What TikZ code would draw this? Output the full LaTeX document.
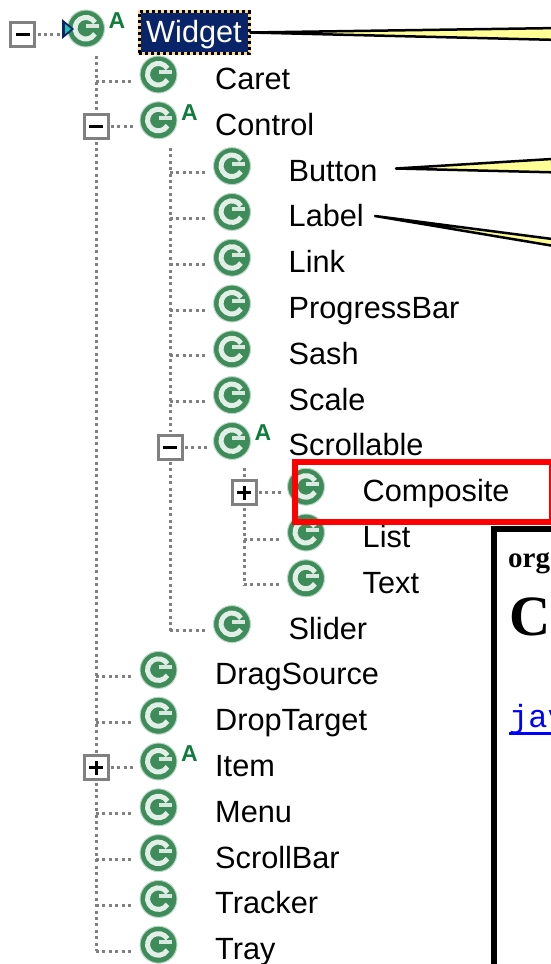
\documentclass[tikz,border=0pt]{standalone}
\usepackage{fontspec}
\setmainfont{Liberation Sans}
\newfontfamily\docserif{Liberation Serif}
\newfontfamily\docmono{Liberation Mono}
\usepackage{tikz}
\usetikzlibrary{positioning}
\definecolor{clsgreen}{RGB}{62,140,90}
\definecolor{absgreen}{RGB}{16,124,60}
\definecolor{selblue}{RGB}{10,36,106}
\definecolor{selwheat}{RGB}{250,215,140}
\definecolor{treegray}{RGB}{128,128,128}
\definecolor{tipyellow}{RGB}{255,255,150}

\begin{document}
\begin{tikzpicture}[x=1pt, y=-1pt, >=latex]%
            \tikzstyle{cls} = [ circle, draw = clsgreen!35, line width = 1pt, fill = clsgreen, minimum size = 37pt, inner sep = 0pt, outer sep = 0pt,
                path picture = {
                    \draw [white!85!clsgreen, line width = 5pt] ([xshift = 9pt, yshift = 6pt]path picture bounding box.center) arc [start angle = 32, end angle = 328, radius = 10.8pt];
                    \draw [white!80!clsgreen, line width = 4pt] ([xshift = 0pt, yshift = 2.5pt]path picture bounding box.center) -- ++(13pt,0);
                    \draw [clsgreen, line width = 4pt] ([xshift = -1pt, yshift = -1.5pt]path picture bounding box.center) -- ++(14pt,0);
                }]
            \tikzstyle{tree_lbl} = [ inner sep = 0pt, text height = 22pt, text depth = 5pt, yshift = -6.5pt, font = \fontsize{30.7}{36}\selectfont]
            \tikzstyle{abs_mark} = [ inner sep = 0pt, text = absgreen, font = \bfseries\fontsize{23}{28}\selectfont]
            \tikzstyle{toggle} = [ rectangle, draw = treegray, line width = 3pt, fill = white, minimum size = 24pt, inner sep = 0pt, outer sep = 0pt]
            \tikzstyle{t_minus} = [ toggle, path picture = {
                    \draw [black, line width = 3pt] ([xshift = -7pt]path picture bounding box.center) -- ++(14pt,0);
                }]
            \tikzstyle{t_plus} = [ toggle, path picture = {
                    \draw [black, line width = 3pt] ([xshift = -7pt]path picture bounding box.center) -- ++(14pt,0);
                    \draw [black, line width = 3pt] ([yshift = -7pt]path picture bounding box.center) -- ++(0,14pt);
                }]
            \tikzstyle{dots} = [ treegray, line width = 3pt, dash pattern = on 3pt off 3.4pt]
            \tikzstyle{callout} = [ draw = black, line width = 2.5pt, line join = round, fill = tipyellow]
            \tikzstyle{doc_txt} = [ inner sep = 0pt, anchor = base west]
        %%
            \useasboundingbox (0,0) rectangle (551,964);
            \clip (0,0) rectangle (551,964);
            \begin{scope}[node distance = 45.8pt]%
                %% Class icons
                \node [cls] (i_widget) at (86,28.5) {};
                \node [cls] (i_caret) at (158.5,74.5) {};
                \node [cls] (i_ctrl) [below of = i_caret] {};
                \node [cls] (i_button) [below of = i_ctrl, xshift = 73.5pt] {};
                \node [cls] (i_label) [below of = i_button] {};
                \node [cls] (i_link) [below of = i_label] {};
                \node [cls] (i_prog) [below of = i_link] {};
                \node [cls] (i_sash) [below of = i_prog] {};
                \node [cls] (i_scale) [below of = i_sash] {};
                \node [cls] (i_scroll) [below of = i_scale] {};
                \node [cls] (i_comp) [below of = i_scroll, xshift = 74pt] {};
                \node [cls] (i_list) [below of = i_comp] {};
                \node [cls] (i_text) [below of = i_list] {};
                \node [cls] (i_slider) [below of = i_text, xshift = -74pt] {};
                \node [cls] (i_drag) [below of = i_slider, xshift = -73.5pt] {};
                \node [cls] (i_drop) [below of = i_drag] {};
                \node [cls] (i_item) [below of = i_drop] {};
                \node [cls] (i_menu) [below of = i_item] {};
                \node [cls] (i_sbar) [below of = i_menu] {};
                \node [cls] (i_track) [below of = i_sbar] {};
                \node [cls] (i_tray) [below of = i_track] {};

                %% Labels
                \node [tree_lbl] (l_caret) [right = 38pt of i_caret] {Caret};
                \node [tree_lbl] (l_ctrl) [right = 38pt of i_ctrl] {Control};
                \node [tree_lbl] (l_button) [right = 38pt of i_button] {Button};
                \node [tree_lbl] (l_label) [right = 38pt of i_label] {Label};
                \node [tree_lbl] (l_link) [right = 38pt of i_link] {Link};
                \node [tree_lbl] (l_prog) [right = 38pt of i_prog] {ProgressBar};
                \node [tree_lbl] (l_sash) [right = 38pt of i_sash] {Sash};
                \node [tree_lbl] (l_scale) [right = 38pt of i_scale] {Scale};
                \node [tree_lbl] (l_scroll) [right = 38pt of i_scroll] {Scrollable};
                \node [tree_lbl] (l_comp) [right = 38pt of i_comp] {Composite};
                \node [tree_lbl] (l_list) [right = 38pt of i_list] {List};
                \node [tree_lbl] (l_text) [right = 38pt of i_text] {Text};
                \node [tree_lbl] (l_slider) [right = 38pt of i_slider] {Slider};
                \node [tree_lbl] (l_drag) [right = 38pt of i_drag] {DragSource};
                \node [tree_lbl] (l_drop) [right = 38pt of i_drop] {DropTarget};
                \node [tree_lbl] (l_item) [right = 38pt of i_item] {Item};
                \node [tree_lbl] (l_menu) [right = 38pt of i_menu] {Menu};
                \node [tree_lbl] (l_sbar) [right = 38pt of i_sbar] {ScrollBar};
                \node [tree_lbl] (l_track) [right = 38pt of i_track] {Tracker};
                \node [tree_lbl] (l_tray) [right = 38pt of i_tray] {Tray};

                %% Selected root
                \node [tree_lbl, yshift = 2.5pt, text depth = 2pt, text = white, fill = selblue, draw = selwheat, line width = 3pt, minimum width = 110pt, minimum height = 42pt, align = center, postaction = {draw = black, dash pattern = on 3pt off 3pt}] (l_widget) [right = 33pt of i_widget] {Widget};

                %% Abstract marks
                \node [abs_mark] (a_widget) [right = 4pt of i_widget, yshift = 8pt] {A};
                \node [abs_mark] (a_ctrl) [right = 4pt of i_ctrl, yshift = 8pt] {A};
                \node [abs_mark] (a_scroll) [right = 4pt of i_scroll, yshift = 8pt] {A};
                \node [abs_mark] (a_item) [right = 4pt of i_item, yshift = 8pt] {A};

                %% Expand boxes
                \node [t_minus] (t_root) at (22.5,34.5) {};
                \node [t_minus] (t_ctrl) at (96,126.5) {};
                \node [t_minus] (t_scroll) at (170,447) {};
                \node [t_plus] (t_comp) at (244,492.7) {};
                \node [t_plus] (t_item) at (96,767.5) {};

                \coordinate (v_root) at (96,56);
                \coordinate (v_ctrl) at (170,148);
                \coordinate (v_scroll) at (244,468);

                %% Tree lines
                \draw [dots, shorten > = 5.5pt, shorten <= 3pt] (t_root.east) -- (t_root -| i_widget.west);
                \draw [dots, shorten > = 3pt] (v_root) -- (t_ctrl.north);
                \draw [dots, shorten <= 3pt, shorten > = 3pt] (t_ctrl.south) -- (t_item.north);
                \draw [dots, shorten <= 3pt] (t_item.south) -- (l_tray -| t_item);
                \draw [dots, shorten > = 3pt] (v_ctrl) -- (t_scroll.north);
                \draw [dots, shorten <= 3pt] (t_scroll.south) -- (l_slider -| t_scroll);
                \draw [dots, shorten > = 3pt] (v_scroll) -- (t_comp.north);
                \draw [dots, shorten <= 3pt] (t_comp.south) -- (l_text -| t_comp);

                \draw [dots, shorten > = 6pt] (l_caret -| t_ctrl) -- (l_caret -| i_caret.west);
                \draw [dots, shorten <= 3pt, shorten > = 6pt] (t_ctrl.east) -- (t_ctrl -| i_ctrl.west);
                \draw [dots, shorten > = 6pt] (l_button -| t_scroll) -- (l_button -| i_button.west);
                \draw [dots, shorten > = 6pt] (l_label -| t_scroll) -- (l_label -| i_label.west);
                \draw [dots, shorten > = 6pt] (l_link -| t_scroll) -- (l_link -| i_link.west);
                \draw [dots, shorten > = 6pt] (l_prog -| t_scroll) -- (l_prog -| i_prog.west);
                \draw [dots, shorten > = 6pt] (l_sash -| t_scroll) -- (l_sash -| i_sash.west);
                \draw [dots, shorten > = 6pt] (l_scale -| t_scroll) -- (l_scale -| i_scale.west);
                \draw [dots, shorten <= 3pt, shorten > = 6pt] (t_scroll.east) -- (t_scroll -| i_scroll.west);
                \draw [dots, shorten <= 3pt, shorten > = 6pt] (t_comp.east) -- (t_comp -| i_comp.west);
                \draw [dots, shorten > = 6pt] (l_list -| t_comp) -- (l_list -| i_list.west);
                \draw [dots, shorten > = 6pt] (l_text -| t_comp) -- (l_text -| i_text.west);
                \draw [dots, shorten > = 6pt] (l_slider -| t_scroll) -- (l_slider -| i_slider.west);
                \draw [dots, shorten > = 6pt] (l_drag -| t_ctrl) -- (l_drag -| i_drag.west);
                \draw [dots, shorten > = 6pt] (l_drop -| t_ctrl) -- (l_drop -| i_drop.west);
                \draw [dots, shorten <= 3pt, shorten > = 6pt] (t_item.east) -- (t_item -| i_item.west);
                \draw [dots, shorten > = 6pt] (l_menu -| t_ctrl) -- (l_menu -| i_menu.west);
                \draw [dots, shorten > = 6pt] (l_sbar -| t_ctrl) -- (l_sbar -| i_sbar.west);
                \draw [dots, shorten > = 6pt] (l_track -| t_ctrl) -- (l_track -| i_track.west);
                \draw [dots, shorten > = 6pt] (l_tray -| t_ctrl) -- (l_tray -| i_tray.west);

                %% Marker on the root icon
                \draw [fill = selblue, draw = none] (62,19) -- (74,29) -- (62,39) -- cycle;
                \draw [fill = clsgreen!50!cyan, draw = none] (65,24) -- (71,29) -- (65,34) -- cycle;

                %% Callouts
                \coordinate (c_w_top) at (560,28);
                \coordinate (c_w_bot) at (560,40);
                \coordinate (c_b_top) at (560,158.5);
                \coordinate (c_b_bot) at (560,172.5);
                \coordinate (c_l_top) at (560,240);
                \coordinate (c_l_bot) at (560,247);
                \coordinate (c_b_tip) at (396,168.5);
                \coordinate (c_l_tip) at (375,216);
                \draw [callout] (l_widget.east) -- (c_w_top) -- (c_w_bot) -- cycle;
                \draw [callout] (c_b_tip) -- (c_b_top) -- (c_b_bot) -- cycle;
                \draw [callout] (c_l_tip) -- (c_l_top) -- (c_l_bot) -- cycle;

                %% Document window behind
                \coordinate (d_corner) at (494,529);
                \draw [black, line width = 6pt, fill = white] (d_corner) rectangle (600,1000);
                \node [doc_txt, font = \docserif\bfseries\fontsize{29}{32}\selectfont] (d_pkg) at (508,567) {org};
                \node [doc_txt, font = \docserif\bfseries\fontsize{57}{60}\selectfont] (d_title) at (509,635) {C};
                \node [doc_txt, text = blue, font = \docmono\fontsize{32}{36}\selectfont] (d_link) at (509,727) {jav};
                \draw [blue, line width = 3pt] ([yshift = -6.5pt]d_link.base west) -- ([yshift = -6.5pt]d_link.base east);

                %% Highlight
                \draw [red, line width = 6pt] (295,462) rectangle (552,522);
            \end{scope}%
\end{tikzpicture}
\end{document}
